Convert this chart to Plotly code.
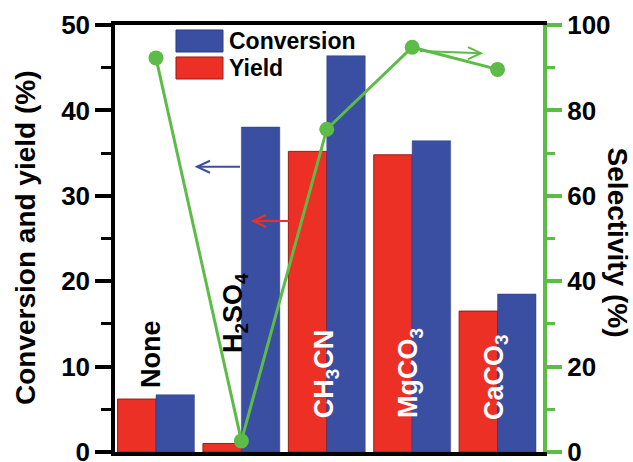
import plotly.graph_objects as go

categories = ["None", "H2SO4", "CH3CN", "MgCO3", "CaCO3"]
cat_labels = ["None", "H<sub>2</sub>SO<sub>4</sub>", "CH<sub>3</sub>CN", "MgCO<sub>3</sub>", "CaCO<sub>3</sub>"]
yield_vals = [6.2, 1.0, 35.2, 34.8, 16.5]
conversion_vals = [6.7, 38.05, 46.4, 36.45, 18.5]
selectivity_vals = [92.3, 2.6, 75.6, 94.8, 89.6]

RED = "#EC3026"
BLUE = "#3A4FA2"
GREEN = "#5DBB47"
FONT = "Liberation Sans, Arial, sans-serif"

xs = list(range(len(categories)))

fig = go.Figure()
fig.add_trace(go.Bar(x=xs, y=yield_vals, name="Yield", marker=dict(color=RED, line=dict(color="#9a1a16", width=1))))
fig.add_trace(go.Bar(x=xs, y=conversion_vals, name="Conversion", marker=dict(color=BLUE, line=dict(color="#2c3c80", width=0.5))))
fig.add_trace(go.Scatter(x=xs, y=selectivity_vals, yaxis="y2", mode="lines+markers", name="Selectivity",
                         line=dict(color=GREEN, width=3), marker=dict(color=GREEN, size=15)))

fig.update_layout(
    width=633, height=462,
    margin=dict(l=115, r=90, t=25, b=10),
    paper_bgcolor="white", plot_bgcolor="white",
    barmode="group", bargap=0.1, bargroupgap=0,
    showlegend=False,
    font=dict(family=FONT, color="black"),
    xaxis=dict(range=[-0.48, 4.532], showticklabels=False, ticks="", showgrid=False, zeroline=False,
               showline=True, linecolor="black", linewidth=3.5, mirror=True, layer="below traces",
               automargin=False),
    yaxis=dict(range=[0, 50], dtick=10, ticks="outside", ticklen=16, tickwidth=3.5, tickcolor="black",
               showgrid=False, zeroline=False, showline=True, linecolor="black", linewidth=3.5,
               automargin=False, ticklabeloverflow="allow",
               tickfont=dict(size=26, family=FONT, weight="bold", color="black"),
               minor=dict(dtick=5, ticks="outside", ticklen=10, tickwidth=3, tickcolor="black")),
    yaxis2=dict(range=[0, 100], dtick=20, overlaying="y", side="right", ticks="outside", ticklen=15,
                tickwidth=3.5, tickcolor=GREEN, showgrid=False, zeroline=False, showline=True,
                linecolor=GREEN, linewidth=4, automargin=False, ticklabeloverflow="allow",
                tickfont=dict(size=26, family=FONT, weight="bold", color="black"),
                minor=dict(dtick=10, ticks="outside", ticklen=8, tickwidth=3, tickcolor=GREEN)),
)

# axis titles
fig.add_annotation(text="Conversion and yield (%)", xref="paper", yref="paper", x=-0.2103, y=0.5035,
                   xanchor="center", yanchor="middle",
                   textangle=-90, showarrow=False, font=dict(size=28, family=FONT, weight="bold", color="black"))
fig.add_annotation(text="Selectivity (%)", xref="paper", yref="paper", x=1.175, y=0.4906,
                   xanchor="center", yanchor="middle",
                   textangle=90, showarrow=False, font=dict(size=28, family=FONT, weight="bold", color="black"))

# category labels
label_pos = [(-0.058, 7.26, "black"), (0.925, 11.36, "black"), (2.0, 3.75, "white"), (2.974, 3.75, "white"), (3.98, 3.5, "white")]
for lab, (lx, ly, col) in zip(cat_labels, label_pos):
    fig.add_annotation(text=lab, x=lx, y=ly, xref="x", yref="y", textangle=-90, showarrow=False,
                       xanchor="center", yanchor="bottom",
                       font=dict(size=27, family=FONT, weight="bold", color=col))

# manual legend
legend_items = [("Conversion", BLUE, "#2c3c80", 0.9368, 0.9883), ("Yield", RED, "#9a1a16", 0.8735, 0.9251)]
for name, col, lc, y0, y1 in legend_items:
    fig.add_shape(type="rect", xref="paper", yref="paper", x0=0.1425, x1=0.2523, y0=y0, y1=y1,
                  fillcolor=col, line=dict(color=lc, width=1))
    fig.add_annotation(text=name, xref="paper", yref="paper", x=0.2617, y=(y0 + y1) / 2, xanchor="left",
                       yanchor="middle", showarrow=False,
                       font=dict(size=23, family=FONT, weight="bold", color="black"))

# axis-indicating arrows
arrows = [((0.984, 33.4), (0.48, 33.4), BLUE, "M 13 -6 L 0 0 L 13 6"),
          ((1.569, 27.05), (1.136, 27.05), RED, "M 13 -6 L 0 0 L 13 6"),
          ((3.091, 46.96), (3.806, 46.7), GREEN, "M -13 -6 L 0 0 L -13 6")]
for (tx, ty), (hx, hy), col, head in arrows:
    fig.add_shape(type="line", xref="x", yref="y", x0=tx, y0=ty, x1=hx, y1=hy, line=dict(color=col, width=2))
    fig.add_shape(type="path", xref="x", yref="y", xsizemode="pixel", ysizemode="pixel",
                  xanchor=hx, yanchor=hy, path=head, line=dict(color=col, width=2))

fig.write_html("out.html")
